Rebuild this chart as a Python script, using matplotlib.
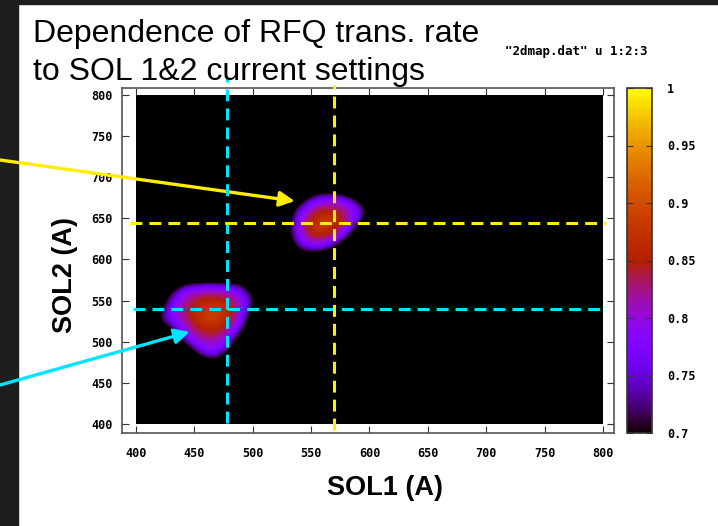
import numpy as np
import matplotlib
matplotlib.use("Agg")
import matplotlib.pyplot as plt
from matplotlib.patches import Rectangle

# map grid (A), 10 A step over 400..800
grid = np.arange(400, 801, 10)
background = 0.6

# transmission blob around SOL1~465 / SOL2~530 (rows: top -> bottom)
blob1_x = [420, 430, 440, 450, 460, 470, 480, 490, 500]
blob1_y = [570, 560, 550, 540, 530, 520, 510, 500, 490, 480]
blob1 = [
    [.60, .62, .70, .73, .74, .74, .73, .71, .62],
    [.62, .70, .79, .81, .82, .82, .81, .78, .68],
    [.64, .75, .81, .84, .86, .86, .84, .80, .72],
    [.68, .78, .82, .86, .88, .88, .86, .80, .70],
    [.71, .78, .82, .86, .89, .89, .86, .79, .65],
    [.66, .74, .80, .84, .87, .87, .83, .76, .62],
    [.60, .66, .77, .82, .84, .84, .80, .70, .60],
    [.60, .60, .70, .79, .81, .81, .76, .64, .60],
    [.60, .60, .62, .72, .79, .78, .70, .60, .60],
    [.60, .60, .60, .63, .72, .72, .64, .60, .60],
]

# transmission blob around SOL1~560 / SOL2~645
blob2_x = [530, 540, 550, 560, 570, 580, 590, 600]
blob2_y = [680, 670, 660, 650, 640, 630, 620, 610]
blob2 = [
    [.60, .62, .68, .72, .72, .68, .62, .60],
    [.62, .68, .77, .80, .81, .79, .72, .62],
    [.64, .75, .82, .85, .84, .82, .77, .68],
    [.66, .79, .85, .88, .87, .83, .76, .64],
    [.68, .80, .87, .89, .87, .80, .70, .60],
    [.67, .79, .85, .86, .82, .75, .64, .60],
    [.64, .76, .80, .80, .75, .66, .60, .60],
    [.60, .70, .72, .71, .66, .60, .60, .60],
]

cb_ticks = [0.7, 0.75, 0.8, 0.85, 0.9, 0.95, 1.0]
cb_labels = ["0.7", "0.75", "0.8", "0.85", "0.9", "0.95", "1"]
axis_ticks = [400, 450, 500, 550, 600, 650, 700, 750, 800]

# chosen settings marked on the map
sol1_cyan, sol2_cyan = 478, 540
sol1_yellow, sol2_yellow = 570, 644

# build field
field = np.full((len(grid), len(grid)), background)
for bx, by, b in [(blob1_x, blob1_y, blob1), (blob2_x, blob2_y, blob2)]:
    for r, yv in enumerate(by):
        for c, xv in enumerate(bx):
            field[list(grid).index(yv), list(grid).index(xv)] = b[r][c]

W, H = 718, 526
fig = plt.figure(figsize=(W / 100, H / 100), dpi=100)
fig.patch.set_facecolor("white")

# dark slide frame
fig.add_artist(Rectangle((0, 0), 18 / W, 1, transform=fig.transFigure,
                         color="#1e1e1e", zorder=-1))
fig.add_artist(Rectangle((0, 1 - 4 / H), 1, 4 / H, transform=fig.transFigure,
                         color="#1e1e1e", zorder=-1))

ax = fig.add_axes([122 / W, 1 - 433 / H, (614 - 122) / W, (433 - 88) / H])
im = ax.imshow(field, origin="lower", extent=[395, 805, 395, 805],
               cmap="gnuplot", vmin=0.7, vmax=1.0, interpolation="bicubic",
               aspect="auto")
im.set_clip_path(Rectangle((400, 400), 400, 400, transform=ax.transData))
ax.set_xlim(388, 809.5)
ax.set_ylim(389, 808.5)

mono = dict(family="DejaVu Sans Mono", weight="bold", size=8.5)
ax.set_xticks(axis_ticks)
ax.set_yticks(axis_ticks)
ax.set_xticklabels([str(t) for t in axis_ticks], fontdict=mono)
ax.set_yticklabels([str(t) for t in axis_ticks], fontdict=mono)
ax.tick_params(direction="in", top=True, right=True, length=5, width=0.8,
               color="#333333")
ax.tick_params(axis="x", pad=10)
ax.tick_params(axis="y", pad=7)
for s in ax.spines.values():
    s.set_color("#555555")
    s.set_linewidth(1.2)

# dashed marker lines
dash = dict(lw=2.2, ls=(0, (3.9, 2.3)), clip_on=False, zorder=4)
ax.plot([sol1_cyan, sol1_cyan], [401, 821], color="#00e5ff", **dash)
ax.plot([397, 803], [sol2_cyan, sol2_cyan], color="#00e5ff", **dash)
ax.plot([sol1_yellow, sol1_yellow], [393, 812], color="#ffee00", **dash)
ax.plot([395, 803], [sol2_yellow, sol2_yellow], color="#ffee00", **dash)

# arrows from the slide margin
arrow = dict(arrowstyle="-|>,head_length=0.9,head_width=0.45", lw=2.4,
             shrinkA=0, shrinkB=0)
ax.annotate("", xy=(536, 671), xycoords="data", xytext=(0, H - 160),
            textcoords="figure pixels",
            arrowprops=dict(color="#ffee00", **arrow), annotation_clip=False)
ax.annotate("", xy=(446, 512), xycoords="data", xytext=(0, H - 385),
            textcoords="figure pixels",
            arrowprops=dict(color="#00e5ff", **arrow), annotation_clip=False)

# colorbar
cax = fig.add_axes([627 / W, 1 - 433 / H, 25 / W, (433 - 88) / H])
cb = fig.colorbar(im, cax=cax, ticks=cb_ticks)
cb.set_ticklabels(cb_labels)
for lab in cax.get_yticklabels():
    lab.set_fontfamily("DejaVu Sans Mono")
    lab.set_fontweight("bold")
    lab.set_fontsize(8.5)
cax.tick_params(direction="in", left=True, right=True, length=4, width=0.8,
                color="#333333", pad=11)
cb.outline.set_edgecolor("#333333")
cb.outline.set_linewidth(1.2)

# texts
fig.text(33 / W, 1 - 42 / H, "Dependence of RFQ trans. rate",
         family="Liberation Sans", size=23, va="baseline", ha="left")
fig.text(33 / W, 1 - 80 / H, "to SOL 1&2 current settings",
         family="Liberation Sans", size=23, va="baseline", ha="left")
fig.text(505 / W, 1 - 52 / H, '"2dmap.dat" u 1:2:3', va="center", ha="left",
         family="DejaVu Sans Mono", weight="bold", size=9)
fig.text(385 / W, 1 - 488 / H, "SOL1 (A)", family="Liberation Sans",
         weight="bold", size=19.5, ha="center", va="center")
fig.text(65 / W, 1 - 275 / H, "SOL2 (A)", family="Liberation Sans",
         weight="bold", size=19.5, ha="center", va="center", rotation=90)

fig.savefig("out.png", dpi=100)
